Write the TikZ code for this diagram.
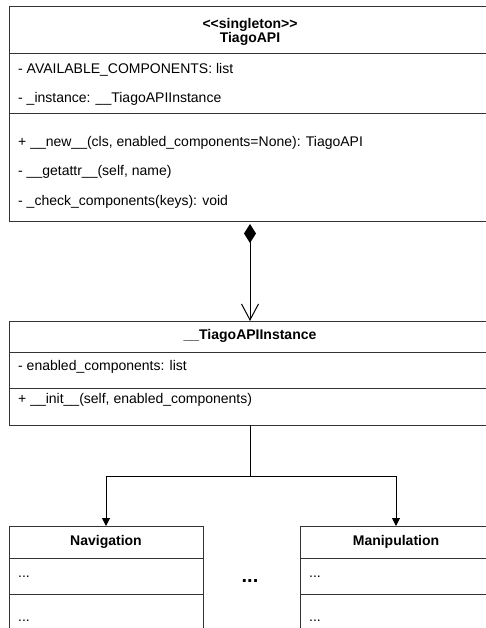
\documentclass[tikz,border=0pt]{standalone}
\usepackage{fontspec}
\setmainfont{Liberation Sans}[Ligatures=TeXOff]
\usetikzlibrary{arrows.meta}

\tikzset{
  compartment/.style={draw=black!80, line width=1pt, anchor=north west,
    inner sep=0pt, outer sep=0pt},
  membertext/.style={anchor=west, inner sep=2pt,
    font=\fontsize{14}{17}\selectfont},
  titletext/.style={inner sep=0pt, align=center,
    font=\fontsize{14}{14}\selectfont\bfseries},
  link/.style={line width=1pt, draw=black},
}

\begin{document}
\begin{tikzpicture}[x=1pt, y=-1pt]
    \useasboundingbox (0,0) rectangle (486,628);
    \clip (0,0) rectangle (486,628);

    % TiagoAPI class
    \node[compartment,
      minimum width=482pt,
      minimum height=47pt] (apiHead) at (9,7) {};
    \node[compartment,
      minimum width=482pt,
      minimum height=60pt] (apiAttr) at (9,54) {};
    \node[compartment,
      minimum width=482pt,
      minimum height=107pt] (apiMeth) at (9,114) {};
    \node[titletext] (apiTitle) at (250,32) {<<singleton>>\\TiagoAPI};
    \node[membertext] (apiAttrA) at (16,70) {- AVAILABLE\_COMPONENTS: list};
    \node[membertext] (apiAttrB) at (16,99) {- \_instance: \_\_TiagoAPIInstance};
    \node[membertext] (apiMethA) at (16,143) {+ \_\_new\_\_(cls, enabled\_components=None): TiagoAPI};
    \node[membertext] (apiMethB) at (16,172) {- \_\_getattr\_\_(self, name)};
    \node[membertext] (apiMethC) at (16,202) {- \_check\_components(keys): void};

    % __TiagoAPIInstance class
    \node[compartment,
      minimum width=482pt,
      minimum height=31pt] (instHead) at (9,321) {};
    \node[compartment,
      minimum width=482pt,
      minimum height=36pt] (instAttr) at (9,352) {};
    \node[compartment,
      minimum width=482pt,
      minimum height=37pt] (instMeth) at (9,388) {};
    \node[titletext] (instTitle) at (250,336) {\_\_TiagoAPIInstance};
    \node[membertext] (instAttrA) at (16,367) {- enabled\_components: list};
    \node[membertext] (instMethA) at (16,400) {+ \_\_init\_\_(self, enabled\_components)};

    % Navigation class
    \node[compartment,
      minimum width=194pt,
      minimum height=32pt] (navHead) at (9,526) {};
    \node[compartment,
      minimum width=194pt,
      minimum height=36pt] (navAttr) at (9,558) {};
    \node[compartment,
      minimum width=194pt,
      minimum height=40pt] (navMeth) at (9,594) {};
    \node[titletext] (navTitle) at (106,542) {Navigation};
    \node[membertext] (navAttrA) at (16,577) {...};
    \node[membertext] (navMethA) at (16,621) {...};

    % Manipulation class
    \node[compartment,
      minimum width=192pt,
      minimum height=32pt] (manHead) at (300,526) {};
    \node[compartment,
      minimum width=192pt,
      minimum height=36pt] (manAttr) at (300,558) {};
    \node[compartment,
      minimum width=192pt,
      minimum height=40pt] (manMeth) at (300,594) {};
    \node[titletext] (manTitle) at (396,542) {Manipulation};
    \node[membertext] (manAttrA) at (307,577) {...};
    \node[membertext] (manMethA) at (307,621) {...};

    % more components
    \node[font=\fontsize{20}{20}\selectfont\bfseries] (moreDots) at (250,581) {...};

    % Draw Arrows
    \coordinate (fork) at (250,476);
    \draw[link, shorten <=3pt,
      {Diamond[length=19pt,width=12pt]}-{Straight Barb[length=16pt,width=17pt]}]
      (apiMeth.south) -- (instHead.north);
    \draw[link, -{Triangle[length=8pt,width=8pt]}] (instMeth.south) -- (fork) -| (navHead.north);
    \draw[link, -{Triangle[length=8pt,width=8pt]}] (fork) -| (manHead.north);

  \end{tikzpicture}
\end{document}
